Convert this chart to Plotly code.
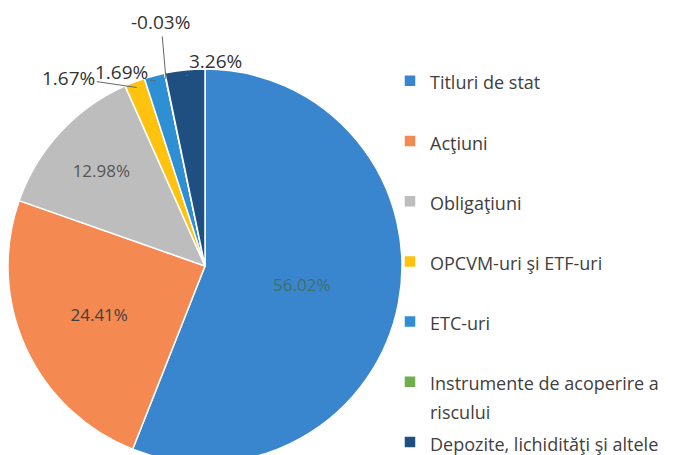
import math
import plotly.graph_objects as go

labels = ["Titluri de stat", "Acţiuni", "Obligaţiuni", "OPCVM-uri şi ETF-uri",
          "ETC-uri", "Instrumente de acoperire a<br>riscului", "Depozite, lichidităţi şi altele"]
values = [56.02, 24.41, 12.98, 1.67, 1.69, -0.03, 3.26]
colors = ["#3A86CE", "#F48A52", "#BDBDBD", "#FFC20E", "#2E8FD4", "#6FAE4A", "#1F4E80"]
# offsets (px) of the outside labels from their slice edge
label_offsets = {3: (-68, -10), 4: (-34, -9), 5: (-5, -57), 6: (30, -15)}

W, H = 675, 455
R = 197
CX, CY = 197, H - R  # pixel centre of pie


def legend_text(label, last=False):
    parts = label.split("<br>")
    body = "<br>".join(f"<span style='font-size:18px'>{p}</span>" for p in parts)
    if len(parts) == 1 and not last:
        body += "<br> "
    return body


legend_labels = [legend_text(l, i == len(labels) - 1) for i, l in enumerate(labels)]

plot_vals = [abs(v) for v in values]
inside = [i not in label_offsets for i in range(len(values))]

fig = go.Figure(go.Pie(
    labels=legend_labels,
    values=plot_vals,
    text=[f"{v:.2f}%" if inside[i] else "" for i, v in enumerate(values)],
    textinfo="text",
    sort=False,
    direction="clockwise",
    rotation=0,
    marker=dict(colors=colors, line=dict(color="white", width=1.5)),
    textposition=["inside" if f else "none" for f in inside],
    insidetextorientation="horizontal",
    textfont=dict(family="Open Sans", size=17,
                  color=["#3F6F6A", "#404040", "#555555", "#333", "#333", "#333", "#333"]),
    domain=dict(x=[0, 2 * R / W], y=[0, 2 * R / H]),
    showlegend=True,
    hoverinfo="label+text",
))

total = sum(plot_vals)
cum = 0
for i, v in enumerate(plot_vals):
    mid = (cum + v / 2) / total * 2 * math.pi
    cum += v
    if i in label_offsets:
        px = CX + R * 0.97 * math.sin(mid)
        py = CY - R * 0.97 * math.cos(mid)
        dx, dy = label_offsets[i]
        fig.add_annotation(
            x=px / W, y=1 - py / H, xref="paper", yref="paper",
            text=f"{values[i]:.2f}%", showarrow=True, arrowhead=0,
            arrowwidth=1, arrowcolor="#666666", ax=dx, ay=dy, standoff=0,
            font=dict(family="Open Sans", size=19, color="#333333"),
        )

fig.update_layout(
    width=W, height=H,
    margin=dict(l=0, r=0, t=0, b=0),
    paper_bgcolor="white",
    plot_bgcolor="white",
    legend=dict(
        xref="paper", yref="paper",
        x=382 / W, y=1 - 57 / H, xanchor="left", yanchor="top",
        font=dict(family="Open Sans", size=22, color="#404040"),
        bgcolor="rgba(0,0,0,0)",
        valign="top", itemwidth=30,
    ),
)
fig.write_html("out.html")
